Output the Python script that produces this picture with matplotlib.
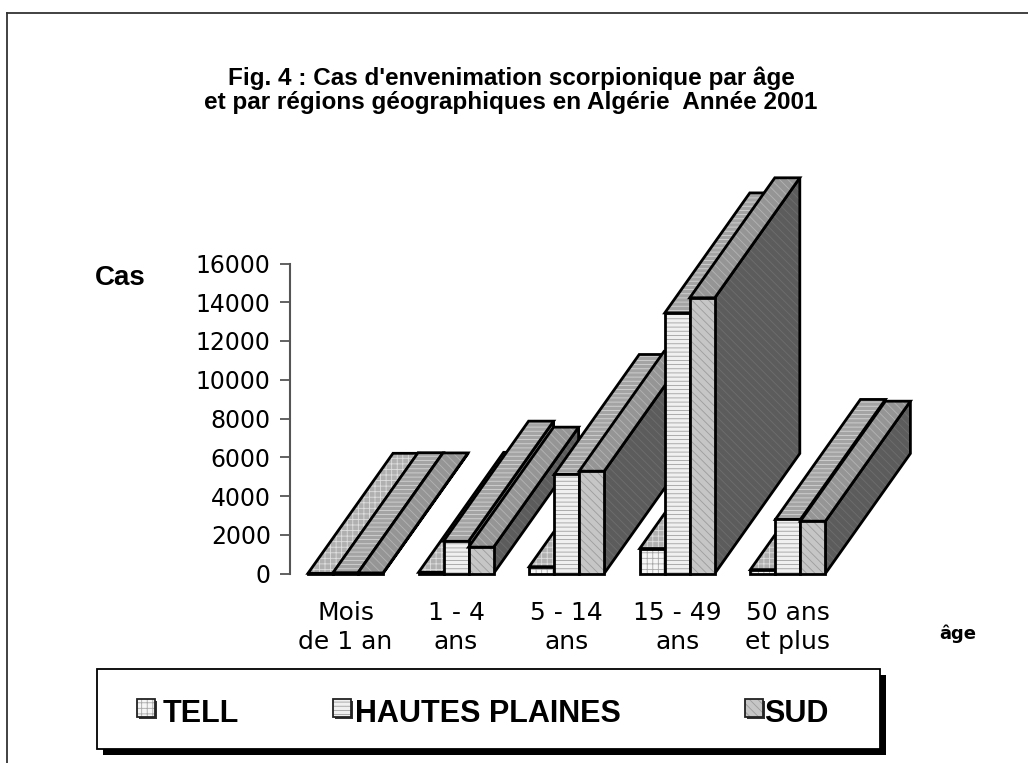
import matplotlib
matplotlib.use("Agg")
import matplotlib.pyplot as plt
from matplotlib.patches import Polygon, Rectangle
from matplotlib.lines import Line2D

# ---------------- data ----------------
categories = ["Mois\nde 1 an", "1 - 4\nans", "5 - 14\nans", "15 - 49\nans", "50 ans\net plus"]
series_names = ["TELL", "HAUTES PLAINES", "SUD"]
tell = [10, 60, 350, 1290, 200]
hautes_plaines = [40, 1670, 5110, 13450, 2790]
sud = [30, 1360, 5280, 14230, 2700]
yticks = [0, 2000, 4000, 6000, 8000, 10000, 12000, 14000, 16000]

values = [tell, hautes_plaines, sud]

# ---------------- style ----------------
plt.rcParams['hatch.linewidth'] = 0.6
W, H = 1028, 763
fig = plt.figure(figsize=(W / 100, H / 100), dpi=100)

def fx(px):
    return px / W

def fy(py):
    return 1 - py / H

# axes placement (pixel based)
ax_left, ax_right = 290.2, 290.2 + 608.3
ax_top, ax_bot = 263.5, 573.5
ax = fig.add_axes([fx(ax_left), fy(ax_bot), (ax_right - ax_left) / W, (ax_bot - ax_top) / H])
ax.set_xlim(-0.5, 5.0)
ax.set_ylim(0, 16000)
ax.patch.set_alpha(0)

styles = [
    dict(front='#f6f6f6', fh='#a8a8a8', top='#b0b0b0', th='#dedede', side='#8a8a8a', sh='#a0a0a0', hatch='+++'),
    dict(front='#f0f0f0', fh='#a0a0a0', top='#a4a4a4', th='#d4d4d4', side='#7a7a7a', sh='#909090', hatch='----'),
    dict(front='#c6c6c6', fh='#9c9c9c', top='#959595', th='#b4b4b4', side='#5c5c5c', sh='#6e6e6e', hatch='\\\\\\\\'),
]

bw = 25 / 110.6          # bar width in category units
ddx = 85 / 110.6         # depth offset x (category units)
ddy = 120 / 310 * 16000  # depth offset y (value units)

def face(pts, fc, hc, hatch):
    ax.add_patch(Polygon(pts, closed=True, facecolor=fc, edgecolor=hc, hatch=hatch,
                         linewidth=0, clip_on=False))
    ax.add_patch(Polygon(pts, closed=True, facecolor='none', edgecolor='black',
                         linewidth=2.0, joinstyle='miter', clip_on=False))

for i in range(len(categories)):
    for j, vals in enumerate(values):
        st = styles[j]
        h = vals[i]
        x0 = i - 1.5 * bw + j * bw
        x1 = x0 + bw
        side = [(x1, 0), (x1 + ddx, ddy), (x1 + ddx, h + ddy), (x1, h)]
        top = [(x0, h), (x1, h), (x1 + ddx, h + ddy), (x0 + ddx, h + ddy)]
        front = [(x0, 0), (x1, 0), (x1, h), (x0, h)]
        face(side, st['side'], st['sh'], st['hatch'])
        face(top, st['top'], st['th'], st['hatch'])
        face(front, st['front'], st['fh'], st['hatch'])

# axes styling
for s in ['top', 'right', 'bottom']:
    ax.spines[s].set_visible(False)
ax.spines['left'].set_color('#555555')
ax.spines['left'].set_linewidth(1.5)
ax.set_yticks(yticks)
ax.set_yticklabels([str(v) for v in yticks], fontsize=17, family='DejaVu Sans')
ax.tick_params(axis='y', direction='out', length=7, width=1.3, color='#555555', pad=7)
ax.set_xticks(range(len(categories)))
ax.set_xticklabels(categories, fontsize=18, family='DejaVu Sans', linespacing=1.25)
ax.tick_params(axis='x', length=0, pad=20)

# axis titles
fig.text(fx(120), fy(278), "Cas", fontsize=20, fontweight='bold', family='Liberation Sans',
         ha='center', va='center')
fig.text(fx(958), fy(634), "âge", fontsize=13, fontweight='bold', family='DejaVu Sans',
         ha='center', va='center')

# title
fig.text(fx(511), fy(78), "Fig. 4 : Cas d'envenimation scorpionique par âge",
         fontsize=17.5, fontweight='bold', family='Liberation Sans', ha='center', va='center')
fig.text(fx(511), fy(102), "et par régions géographiques en Algérie  Année 2001",
         fontsize=17.5, fontweight='bold', family='Liberation Sans', ha='center', va='center')

# outer frame (left & top)
fig.add_artist(Line2D([fx(7), fx(7)], [fy(763), fy(12.5)], color='#333333', lw=1.3,
                      transform=fig.transFigure))
fig.add_artist(Line2D([fx(7), fx(1028)], [fy(12.5), fy(12.5)], color='#333333', lw=1.3,
                      transform=fig.transFigure))

# legend box with shadow
lx0, lx1, ly0, ly1 = 97, 880, 669, 749
sh = 6
fig.add_artist(Rectangle((fx(lx0 + sh), fy(ly1 + sh)), (lx1 - lx0) / W, (ly1 - ly0) / H,
                         transform=fig.transFigure, facecolor='black', edgecolor='none'))
fig.add_artist(Rectangle((fx(lx0), fy(ly1)), (lx1 - lx0) / W, (ly1 - ly0) / H,
                         transform=fig.transFigure, facecolor='white', edgecolor='black', lw=1.3))

leg_marker_x = [137, 333, 745]
leg_text_x = [163, 355, 764]
ms = 18
for k, name in enumerate(series_names):
    st = styles[k]
    mx = leg_marker_x[k]
    my = 699
    fig.add_artist(Rectangle((fx(mx + 2), fy(my + ms + 2)), ms / W, ms / H, transform=fig.transFigure,
                             facecolor='#333333', edgecolor='none'))
    fig.add_artist(Rectangle((fx(mx), fy(my + ms)), ms / W, ms / H, transform=fig.transFigure,
                             facecolor=st['front'], edgecolor=st['fh'], hatch=st['hatch'], lw=0))
    fig.add_artist(Rectangle((fx(mx), fy(my + ms)), ms / W, ms / H, transform=fig.transFigure,
                             facecolor='none', edgecolor='#222222', lw=1.3))
    fig.text(fx(leg_text_x[k]), fy(714), name, fontsize=22, fontweight='bold',
             family='Liberation Sans', ha='left', va='center')

fig.savefig("out.png", dpi=100)
